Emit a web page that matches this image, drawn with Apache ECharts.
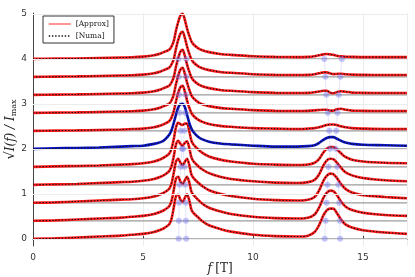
<!DOCTYPE html>
<html>
<head>
<meta charset="utf-8">
<script src="https://cdn.jsdelivr.net/npm/echarts@6/dist/echarts.min.js"></script>
<style>html,body{margin:0;padding:0;background:#fff}#c{width:415px;height:277px}</style>
</head>
<body>
<div id="c"></div>
<script>
// frequency grid f [T]
const F = [0, 1, 2, 3, 4, 4.5, 5, 5.5, 5.8, 6.0, 6.2, 6.3, 6.4, 6.5, 6.6, 6.7, 6.8, 6.9, 7.0, 7.1, 7.2, 7.3, 7.5, 7.7, 8.0, 8.5, 9, 10, 11, 12, 12.5, 12.8, 13.0, 13.2, 13.35, 13.5, 13.65, 13.8, 14.0, 14.2, 14.5, 15, 16, 17];
// vertical offsets of the stacked traces
const OFFSETS = [0, 0.4, 0.8, 1.2, 1.6, 2.0, 2.4, 2.8, 3.2, 3.6, 4.0];
// sqrt(I/Imax) of each trace, above its offset
const trace00 = [0.00,0.01,0.03,0.05,0.07,0.09,0.11,0.15,0.20,0.25,0.33,0.45,0.70,0.95,0.98,0.87,0.82,0.91,0.99,0.86,0.65,0.57,0.48,0.39,0.30,0.22,0.16,0.09,0.06,0.05,0.07,0.15,0.30,0.52,0.63,0.67,0.67,0.58,0.43,0.32,0.25,0.19,0.14,0.11];
const trace04 = [0.00,0.01,0.03,0.05,0.07,0.09,0.11,0.15,0.20,0.25,0.33,0.45,0.69,0.94,0.98,0.87,0.82,0.90,0.98,0.86,0.65,0.57,0.47,0.38,0.29,0.21,0.15,0.09,0.06,0.05,0.07,0.14,0.29,0.51,0.62,0.67,0.66,0.58,0.43,0.32,0.24,0.18,0.13,0.11];
const trace08 = [0.00,0.01,0.03,0.05,0.07,0.08,0.10,0.14,0.19,0.24,0.32,0.44,0.67,0.92,0.98,0.89,0.84,0.91,0.98,0.85,0.63,0.55,0.45,0.37,0.28,0.20,0.15,0.09,0.06,0.05,0.07,0.13,0.27,0.49,0.60,0.65,0.64,0.56,0.42,0.31,0.23,0.17,0.13,0.10];
const trace12 = [0.00,0.01,0.02,0.04,0.06,0.07,0.09,0.13,0.18,0.23,0.31,0.42,0.64,0.90,0.98,0.91,0.87,0.93,0.97,0.83,0.61,0.52,0.42,0.34,0.26,0.18,0.13,0.08,0.05,0.04,0.06,0.11,0.23,0.43,0.54,0.58,0.57,0.50,0.38,0.28,0.21,0.15,0.10,0.08];
const trace16 = [0.00,0.01,0.02,0.03,0.05,0.06,0.08,0.12,0.17,0.22,0.30,0.41,0.62,0.88,0.98,0.95,0.93,0.96,0.96,0.80,0.58,0.49,0.39,0.31,0.23,0.16,0.12,0.07,0.05,0.04,0.05,0.09,0.17,0.32,0.40,0.44,0.44,0.39,0.30,0.22,0.16,0.12,0.09,0.08];
const trace20 = [0.00,0.01,0.02,0.03,0.05,0.06,0.07,0.11,0.15,0.21,0.32,0.42,0.58,0.76,0.92,0.99,1.00,0.93,0.76,0.58,0.45,0.37,0.27,0.21,0.16,0.12,0.10,0.07,0.05,0.05,0.06,0.08,0.13,0.20,0.24,0.26,0.26,0.23,0.18,0.14,0.11,0.09,0.08,0.07];
const trace24 = [0.00,0.005,0.01,0.02,0.03,0.04,0.05,0.08,0.12,0.16,0.22,0.30,0.44,0.66,0.85,0.97,1.00,0.88,0.68,0.52,0.40,0.33,0.25,0.20,0.15,0.11,0.09,0.06,0.05,0.04,0.05,0.06,0.08,0.11,0.13,0.14,0.14,0.13,0.10,0.08,0.06,0.05,0.04,0.04];
const trace28 = [0.00,0.005,0.01,0.02,0.03,0.035,0.05,0.08,0.12,0.16,0.21,0.28,0.41,0.64,0.83,0.96,1.00,0.87,0.68,0.52,0.39,0.32,0.24,0.19,0.15,0.11,0.09,0.06,0.045,0.04,0.045,0.055,0.065,0.07,0.07,0.05,0.05,0.08,0.09,0.07,0.05,0.045,0.04,0.04];
const trace32 = [0.00,0.005,0.01,0.02,0.03,0.035,0.05,0.08,0.12,0.16,0.21,0.28,0.40,0.63,0.82,0.96,1.00,0.87,0.68,0.52,0.39,0.32,0.24,0.19,0.15,0.11,0.09,0.06,0.045,0.04,0.045,0.06,0.075,0.09,0.09,0.05,0.035,0.06,0.08,0.07,0.05,0.045,0.04,0.04];
const trace36 = [0.00,0.005,0.01,0.02,0.03,0.035,0.05,0.08,0.12,0.16,0.21,0.28,0.40,0.63,0.82,0.96,1.00,0.87,0.68,0.52,0.39,0.32,0.24,0.19,0.15,0.11,0.09,0.06,0.045,0.04,0.045,0.06,0.08,0.10,0.10,0.08,0.06,0.065,0.07,0.06,0.05,0.045,0.04,0.04];
const trace40 = [0.00,0.005,0.01,0.02,0.03,0.035,0.05,0.08,0.12,0.16,0.21,0.28,0.40,0.63,0.82,0.96,1.00,0.87,0.68,0.52,0.39,0.32,0.24,0.19,0.15,0.11,0.09,0.06,0.045,0.04,0.045,0.06,0.08,0.10,0.11,0.10,0.09,0.07,0.055,0.05,0.045,0.04,0.04,0.04];
const TRACES = [trace00, trace04, trace08, trace12, trace16, trace20, trace24, trace28, trace32, trace36, trace40];
// resonance positions (f) marked with dots on each baseline
const resA1 = [6.62, 6.63, 6.64, 6.66, 6.71, 6.78, 6.71, 6.66, 6.64, 6.62, 6.61];
const resA2 = [6.96, 6.95, 6.94, 6.92, 6.88, 6.82, 6.88, 6.92, 6.94, 6.96, 6.97];
const resB1 = [13.26, 13.30, 13.34, 13.38, 13.43, 13.50, 13.47, 13.40, 13.33, 13.29, 13.24];
const resB2 = [13.96, 13.95, 13.92, 13.88, 13.83, 13.76, 13.78, 13.84, 13.90, 13.97, 14.04];
const BLUE_INDEX = 5;
const Y_TICKS = [0, 1, 2, 3, 4, 5];

const series = [];
// faint horizontal grid lines
series.push({type:'line', data:[], silent:true, z:0,
  markLine:{silent:true, symbol:'none', label:{show:false},
    lineStyle:{color:'#ececec', width:1, type:'solid'},
    data: Y_TICKS.map(v => ({yAxis:v}))}});
// gray baselines
OFFSETS.forEach(o => series.push({type:'line', silent:true, z:1, symbol:'none',
  lineStyle:{color:'#9c9c9c', width:1.3}, data:[[0,o],[17,o]]}));
// faint connecting lines between resonance dots
[resA1, resA2, resB1, resB2].forEach(arr => series.push({type:'line', silent:true, z:2, symbol:'none',
  lineStyle:{color:'rgba(120,120,235,0.2)', width:1}, data: arr.map((f,i)=>[f, OFFSETS[i]])}));
// traces
TRACES.forEach((t, k) => {
  const o = OFFSETS[k];
  const d = F.map((f,i)=>[f, o + t[i]]);
  const blue = k === BLUE_INDEX;
  series.push({name: blue ? 'blue' : '[Approx]', type:'line', z:3, symbol:'none', smooth:0.3,
    lineStyle:{color: blue ? '#0a14c8' : '#ff1a1a', width:2.6}, data:d});
  series.push({name:'[Numa]', type:'line', z:4, symbol:'none', smooth:0.3,
    lineStyle:{color:'#111', width:1.1, type:[1.4,1.8]}, data:d});
});
// resonance dots
const dots = [];
OFFSETS.forEach((o,i)=>{ dots.push([resA1[i],o],[resA2[i],o],[resB1[i],o],[resB2[i],o]); });
series.push({type:'scatter', z:6, silent:true, symbolSize:6, itemStyle:{color:'rgba(110,110,235,0.5)'}, data:dots});

const chart = echarts.init(document.getElementById('c'), null, {renderer:'canvas'});
chart.setOption({
  animation:false,
  backgroundColor:'#fff',
  grid:{left:33, right:8, top:13, bottom:31, containLabel:false, outerBoundsMode:'none'},
  legend:{data:['[Approx]','[Numa]'], orient:'vertical', left:43, top:16,
    borderColor:'#333', borderWidth:1, padding:[4,5,3,5], itemGap:4, itemWidth:22, itemHeight:7,
    itemStyle:{opacity:0},
    lineStyle:{width:1.5},
    textStyle:{fontFamily:'DejaVu Serif', fontSize:7.5, color:'#222'},
    data:[{name:'[Approx]', lineStyle:{color:'#ff7070', width:1.5}}, {name:'[Numa]'}]},
  xAxis:{type:'value', min:0, max:17, interval:5,
    name:'{i|f} {n|[T]}', nameLocation:'middle', nameGap:17, nameMoveOverlap:false,
    nameTextStyle:{rich:{i:{fontFamily:'DejaVu Serif', fontStyle:'italic', fontSize:12, color:'#222'}, n:{fontFamily:'DejaVu Serif', fontSize:12, color:'#222'}}},
    axisLine:{lineStyle:{color:'#444', width:1}},
    axisTick:{inside:true, length:3, lineStyle:{color:'#444'}},
    axisLabel:{fontFamily:'DejaVu Sans', fontSize:9, color:'#333', margin:7, showMaxLabel:false},
    splitLine:{show:true, lineStyle:{color:'#ececec', width:1}}},
  yAxis:{type:'value', min:-0.16, max:5.02,
    name:'{s|√}{o|I(f) / I}{m|max}', nameLocation:'middle', nameGap:15, nameRotate:90, nameMoveOverlap:false,
    nameTextStyle:{rich:{s:{fontFamily:'DejaVu Serif', fontSize:13, color:'#222'},
      o:{fontFamily:'DejaVu Serif', fontStyle:'italic', fontSize:12, color:'#222'},
      m:{fontFamily:'DejaVu Serif', fontSize:8, color:'#222', verticalAlign:'bottom', padding:[6,0,0,0]}}},
    axisLine:{show:true, lineStyle:{color:'#444', width:1}},
    axisTick:{show:true, inside:true, length:3, customValues:Y_TICKS, lineStyle:{color:'#444'}},
    axisLabel:{fontFamily:'DejaVu Sans', fontSize:9, color:'#333', margin:6, customValues:Y_TICKS},
    splitLine:{show:false}},
  series: series
});
</script>
</body>
</html>
